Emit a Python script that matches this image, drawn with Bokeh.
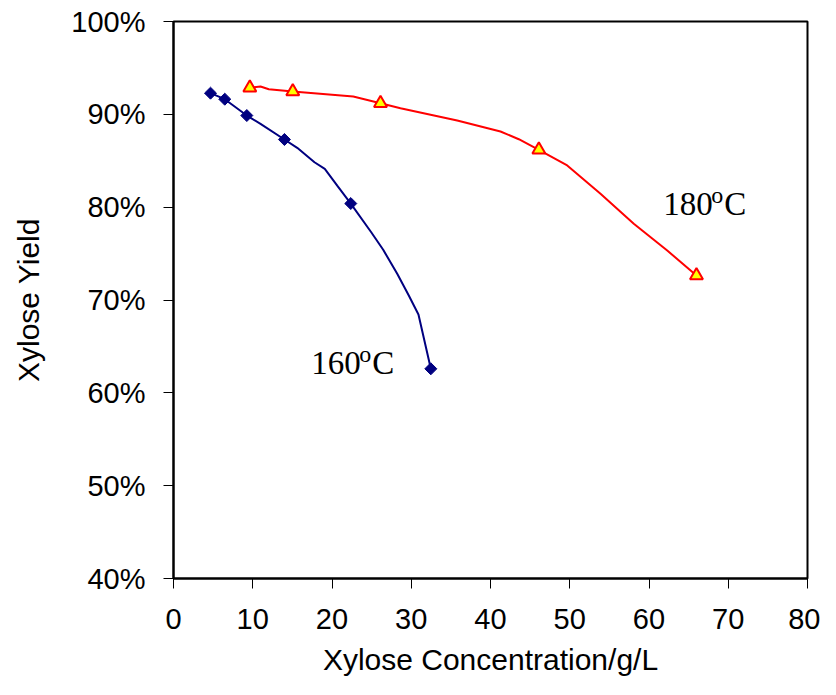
from bokeh.plotting import figure
from bokeh.models import Range1d, FixedTicker, PrintfTickFormatter
from bokeh.core.properties import value
from bokeh.embed import file_html
from bokeh.resources import INLINE
import math

# --- data ---
# 160 C series (markers)
x160 = [4.67, 6.47, 9.25, 14.0, 22.37, 32.47]
y160 = [92.28, 91.63, 89.87, 87.29, 80.39, 62.59]
# 160 C fitted curve
cx160 = [4.67, 6.47, 9.25, 10.98, 14.0, 15.61, 17.79, 19.09, 20.66, 22.37,
         24.95, 26.46, 28.23, 29.69, 30.91, 32.47]
cy160 = [92.28, 91.63, 89.87, 88.98, 87.29, 86.39, 84.84, 84.13, 82.33, 80.39,
         77.30, 75.41, 72.82, 70.48, 68.44, 62.59]

# 180 C series (markers)
x180 = [9.63, 15.05, 26.12, 46.1, 65.99]
y180 = [92.86, 92.46, 91.20, 86.18, 72.64]
# 180 C fitted curve
cx180 = [9.63, 10.98, 12.03, 15.05, 22.68, 26.12, 28.64, 35.8, 41.26, 43.57,
         46.1, 49.68, 53.88, 58.08, 62.3, 65.99]
cy180 = [92.86, 93.0, 92.71, 92.46, 91.92, 91.20, 90.66, 89.34, 88.15, 87.32,
         86.18, 84.49, 81.44, 78.21, 75.33, 72.64]

x_ticks = [0, 10, 20, 30, 40, 50, 60, 70, 80]
y_ticks = [40, 50, 60, 70, 80, 90, 100]

labels = ["160", "180"]
label_x = [17.38, 61.79]
label_y = [63.16, 80.39]

x_title = "Xylose Concentration/g/L"
y_title = "Xylose Yield"

p = figure(width=820, height=679, output_backend="svg", toolbar_location=None,
           x_range=Range1d(0, 80), y_range=Range1d(40, 100),
           min_border_left=173, min_border_right=13, min_border_top=21,
           min_border_bottom=101)
p.xgrid.visible = False
p.ygrid.visible = False
p.outline_line_color = "black"
p.outline_line_width = 2
p.background_fill_color = "white"
p.border_fill_color = "white"

for ax in (p.xaxis[0], p.yaxis[0]):
    ax.major_tick_in = 0
    ax.major_tick_out = 10
    ax.minor_tick_in = 0
    ax.minor_tick_out = 0
    ax.axis_line_color = "black"
    ax.axis_line_width = 2
    ax.major_tick_line_color = "black"
    ax.major_tick_line_width = 1
    ax.major_label_text_font = "Liberation Sans"
    ax.major_label_text_font_size = "29px"
    ax.major_label_text_color = "black"
    ax.axis_label_text_font = "Liberation Sans"
    ax.axis_label_text_font_size = "30px"
    ax.axis_label_text_font_style = "normal"
    ax.axis_label_text_color = "black"

p.xaxis.major_label_standoff = 20
p.yaxis.major_label_standoff = 18
p.xaxis.ticker = FixedTicker(ticks=x_ticks)
p.yaxis.ticker = FixedTicker(ticks=y_ticks)
p.yaxis.formatter = PrintfTickFormatter(format="%d%%")
p.xaxis.axis_label = x_title
p.yaxis.axis_label = y_title
p.xaxis.axis_label_standoff = 11
p.yaxis.axis_label_standoff = 23

p.line(cx160, cy160, line_color="#000080", line_width=2)
p.scatter(x160, y160, marker="square", size=8.5, angle=math.pi / 4,
          fill_color="#000080", line_color="#000080")

p.line(cx180, cy180, line_color="#FF0000", line_width=2)
p.scatter(x180, y180, marker="triangle", size=13, fill_color="#FFFF00",
          line_color="#FF0000", line_width=2)

serif = value("Liberation Serif")
p.text(label_x, label_y, text=labels, text_font=serif, text_font_size="33px",
       text_baseline="alphabetic", text_align="left", text_color="black")
p.text(label_x, label_y, text=["o", "o"], text_font=serif, text_font_size="24px",
       text_baseline="alphabetic", text_align="left", text_color="black",
       x_offset=48, y_offset=-9)
p.text(label_x, label_y, text=["C", "C"], text_font=serif, text_font_size="33px",
       text_baseline="alphabetic", text_align="left", text_color="black",
       x_offset=61)

open("out.html", "w").write(file_html(p, INLINE))
